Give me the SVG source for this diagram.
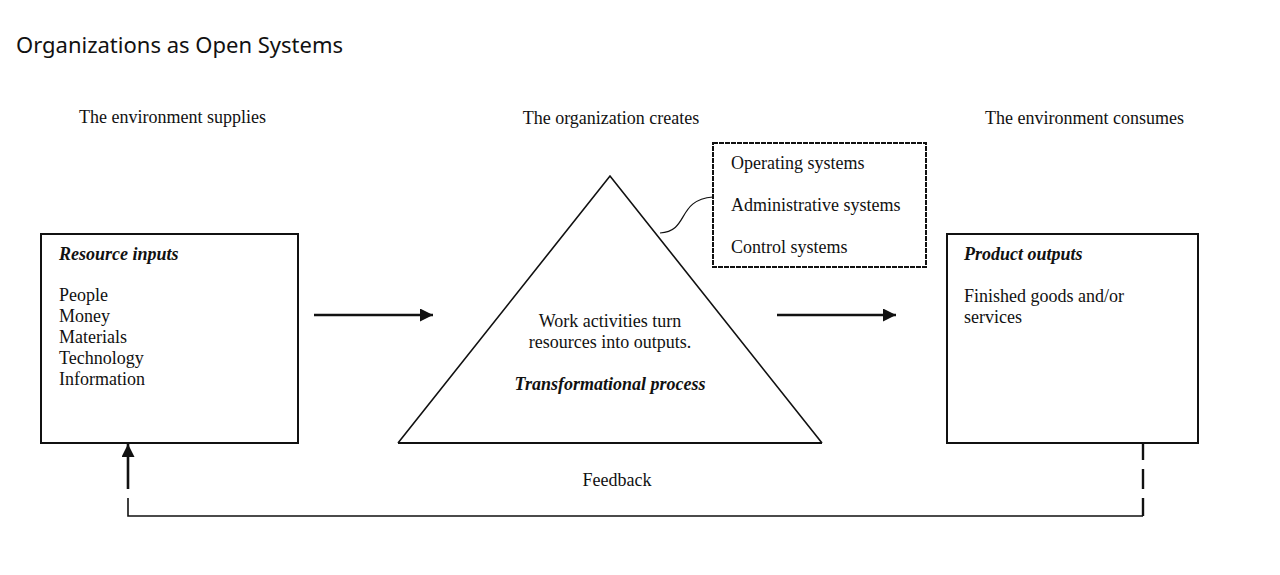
<svg xmlns="http://www.w3.org/2000/svg" width="1280" height="575" viewBox="0 0 1280 575">
<style>
.t{font-family:"Liberation Serif","Times New Roman",serif;font-size:18px;fill:#111}
.bi{font-weight:bold;font-style:italic}
.title{font-family:"Noto Sans","Open Sans",sans-serif;font-size:22px;fill:#111}
.box{fill:#fff;stroke:#111;stroke-width:2}
.ln{stroke:#111;fill:none}
</style>
<defs>
<marker id="ah" viewBox="0 0 10 10" refX="10" refY="5" markerWidth="5.4" markerHeight="5" markerUnits="strokeWidth" orient="auto">
<path d="M0,0 L10,5 L0,10 Z" fill="#111"/>
</marker>
</defs>
<rect width="1280" height="575" fill="#fff"/>
<text class="title" x="16" y="53">Organizations as Open Systems</text>
<text class="t" x="79" y="123">The environment supplies</text>
<text class="t" x="611" y="124" text-anchor="middle">The organization creates</text>
<text class="t" x="985" y="124">The environment consumes</text>

<g id="resource-inputs">
<rect class="box" x="41" y="234" width="257" height="209"/>
<text class="t bi" x="59" y="260">Resource inputs</text>
<text class="t" x="59" y="301">People</text>
<text class="t" x="59" y="322">Money</text>
<text class="t" x="59" y="343">Materials</text>
<text class="t" x="59" y="364">Technology</text>
<text class="t" x="59" y="385">Information</text>
</g>

<g id="transformational-process">
<path class="ln" d="M398,443 L610,176 L822,443" stroke-width="1.6"/>
<line class="ln" x1="398" y1="443" x2="822" y2="443" stroke-width="2.2"/>
<text class="t" x="610" y="327" text-anchor="middle">Work activities turn</text>
<text class="t" x="610" y="348" text-anchor="middle">resources into outputs.</text>
<text class="t bi" x="610" y="390" text-anchor="middle">Transformational process</text>
</g>

<g id="systems">
<rect x="713" y="143" width="213" height="124" fill="#fff" stroke="#111" stroke-width="2" stroke-dasharray="5,1"/>
<text class="t" x="731" y="169">Operating systems</text>
<text class="t" x="731" y="211">Administrative systems</text>
<text class="t" x="731" y="253">Control systems</text>
</g>

<g id="product-outputs">
<rect class="box" x="947" y="234" width="251" height="209"/>
<text class="t bi" x="964" y="260">Product outputs</text>
<text class="t" x="964" y="302">Finished goods and/or</text>
<text class="t" x="964" y="323">services</text>
</g>

<g id="connectors">
<path class="ln" d="M660,233 C690,231 676,200 713,197" stroke-width="1.2"/>
<line class="ln" x1="314" y1="315" x2="433" y2="315" stroke-width="2.6" marker-end="url(#ah)"/>
<line class="ln" x1="777" y1="315" x2="896" y2="315" stroke-width="2.6" marker-end="url(#ah)"/>
<line class="ln" x1="1143" y1="443" x2="1143" y2="460" stroke-width="2.4"/>
<line class="ln" x1="1143" y1="469" x2="1143" y2="489" stroke-width="2.4"/>
<line class="ln" x1="1143" y1="498" x2="1143" y2="516" stroke-width="2.4"/>
<polyline class="ln" points="1143,516 128,516 128,498" stroke-width="1.6"/>
<line class="ln" x1="128" y1="489" x2="128" y2="444" stroke-width="2.6" marker-end="url(#ah)"/>
<text class="t" x="617" y="486" text-anchor="middle">Feedback</text>
</g>
</svg>
